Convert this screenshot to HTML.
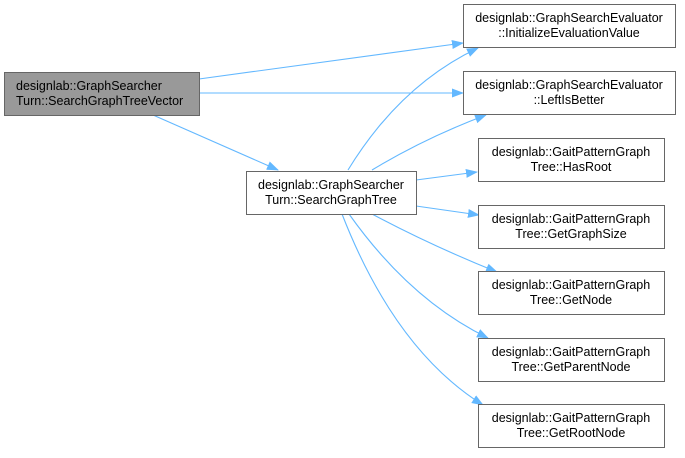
<!DOCTYPE html>
<html><head><meta charset="utf-8"><style>
body{margin:0;background:#fff;width:685px;height:453px;overflow:hidden}
svg text{font-family:"Liberation Sans",Arial,sans-serif;font-size:12.5px;fill:#000}
</style></head><body>
<svg width="685" height="453" viewBox="0 0 685 453" xmlns="http://www.w3.org/2000/svg">
<defs><marker id="a" markerWidth="12" markerHeight="12" refX="11" refY="6" orient="auto" markerUnits="userSpaceOnUse"><path d="M0,1.5 L12,6 L0,10.5 Z" fill="#63b8ff"/></marker></defs>
<g fill="none" stroke="#63b8ff" stroke-width="1.1" marker-end="url(#a)">
<path d="M199,79 L463,43"/>
<path d="M199,93 L463,93"/>
<path d="M153,115 L278,170"/>
<path d="M348,170 Q400,85 478,48"/>
<path d="M372,170 Q425,138 486,115"/>
<path d="M416,180 L477,172"/>
<path d="M416,206 L479,215"/>
<path d="M372,214 Q430,245 497,272"/>
<path d="M349,214 Q410,300 488,338"/>
<path d="M342,214 Q395,350 483,405"/>
</g>
<g stroke="#666" stroke-width="1">
<rect x="4.5" y="72.5" width="195" height="43" fill="#999"/>
<rect x="246.5" y="171.5" width="170" height="43" fill="#fff"/>
<rect x="463.5" y="4.5" width="212" height="43" fill="#fff"/>
<rect x="463.5" y="71.5" width="212" height="43" fill="#fff"/>
<rect x="478.5" y="138.5" width="186" height="43" fill="#fff"/>
<rect x="478.5" y="205.5" width="186" height="43" fill="#fff"/>
<rect x="478.5" y="271.5" width="186" height="43" fill="#fff"/>
<rect x="478.5" y="338.5" width="186" height="43" fill="#fff"/>
<rect x="478.5" y="404.5" width="186" height="43" fill="#fff"/>
</g>
<text x="16" y="90">designlab::GraphSearcher</text>
<text x="16" y="105">Turn::SearchGraphTreeVector</text>
<g text-anchor="middle">
<text x="331" y="189">designlab::GraphSearcher</text><text x="331" y="204">Turn::SearchGraphTree</text>
<text x="569" y="22">designlab::GraphSearchEvaluator</text><text x="569" y="37">::InitializeEvaluationValue</text>
<text x="569" y="89">designlab::GraphSearchEvaluator</text><text x="569" y="104">::LeftIsBetter</text>
<text x="571" y="156">designlab::GaitPatternGraph</text><text x="571" y="171">Tree::HasRoot</text>
<text x="571" y="223">designlab::GaitPatternGraph</text><text x="571" y="238">Tree::GetGraphSize</text>
<text x="571" y="289">designlab::GaitPatternGraph</text><text x="571" y="304">Tree::GetNode</text>
<text x="571" y="356">designlab::GaitPatternGraph</text><text x="571" y="371">Tree::GetParentNode</text>
<text x="571" y="422">designlab::GaitPatternGraph</text><text x="571" y="437">Tree::GetRootNode</text>
</g>
</svg>
</body></html>
